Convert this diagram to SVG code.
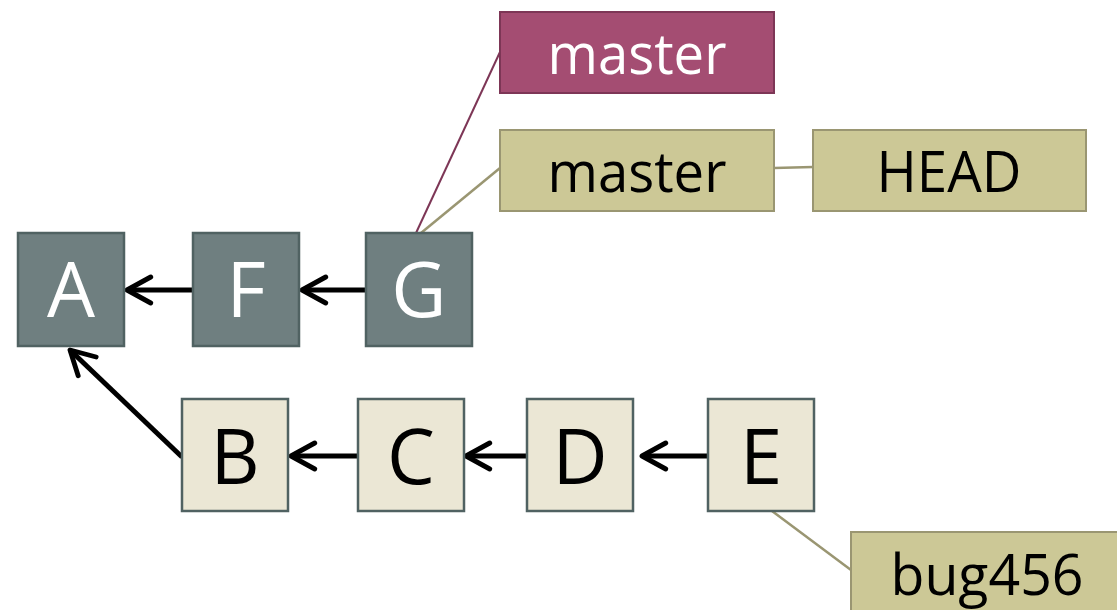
<svg xmlns="http://www.w3.org/2000/svg" width="1117" height="610" viewBox="0 0 1117 610">
<defs>
<marker id="ah" viewBox="0 0 10 10" refX="8.8" refY="5" markerWidth="6.5" markerHeight="6.5" orient="auto" markerUnits="strokeWidth" overflow="visible">
<path d="M1.5,1 L8.8,5 L1.5,9" fill="none" stroke="#000" stroke-width="1.5" stroke-linecap="round" stroke-linejoin="round"/>
</marker>
<style>
.dk{fill:#6f7f80;stroke:#506262;stroke-width:2.5}
.lt{fill:#ebe7d5;stroke:#506262;stroke-width:2.5}
.rd{fill:#a44d72;stroke:#7d3656;stroke-width:2}
.ol{fill:#ccc896;stroke:#9a9672;stroke-width:2}
.big{font-family:"Open Sans","Liberation Sans",sans-serif;font-size:76px;text-anchor:middle}
.lbl{font-family:"Open Sans","Liberation Sans",sans-serif;font-size:56px;text-anchor:middle}
.w{fill:#fff}.k{fill:#000}
.arr{stroke:#000;stroke-width:5;fill:none;marker-end:url(#ah)}
.lr{stroke:#7d3656;stroke-width:2;fill:none}
.lo{stroke:#9a9672;stroke-width:2.5;fill:none}
</style>
</defs>
<g id="connectors">
<line class="arr" x1="193" y1="290" x2="127" y2="290"/>
<line class="arr" x1="366" y1="290" x2="302" y2="290"/>
<line class="arr" x1="182" y1="457" x2="70" y2="350"/>
<line class="arr" x1="358" y1="456" x2="291" y2="456"/>
<line class="arr" x1="527" y1="456" x2="466" y2="456"/>
<line class="arr" x1="708" y1="456" x2="642" y2="456"/>
<line class="lr" x1="416" y1="233" x2="500" y2="52"/>
<line class="lo" x1="421" y1="233" x2="500" y2="168"/>
<line class="lo" x1="774" y1="168" x2="813" y2="167"/>
<line class="lo" x1="772" y1="511" x2="851" y2="570"/>
</g>
<g id="A"><rect class="dk" x="18" y="233" width="106" height="113"/><text class="big w" x="71" y="317">A</text></g>
<g id="F"><rect class="dk" x="193" y="233" width="106" height="113"/><text class="big w" x="246" y="317">F</text></g>
<g id="G"><rect class="dk" x="366" y="233" width="106" height="113"/><text class="big w" x="419" y="317">G</text></g>
<g id="B"><rect class="lt" x="182" y="399" width="106" height="112"/><text class="big k" x="235" y="484">B</text></g>
<g id="C"><rect class="lt" x="358" y="399" width="106" height="112"/><text class="big k" x="411" y="484">C</text></g>
<g id="D"><rect class="lt" x="527" y="399" width="106" height="112"/><text class="big k" x="580" y="484">D</text></g>
<g id="E"><rect class="lt" x="708" y="399" width="106" height="112"/><text class="big k" x="761" y="484">E</text></g>
<g id="master-remote"><rect class="rd" x="500" y="12" width="274" height="81"/><text class="lbl w" x="637" y="74" textLength="179" lengthAdjust="spacingAndGlyphs">master</text></g>
<g id="master"><rect class="ol" x="500" y="130" width="274" height="81"/><text class="lbl k" x="637" y="192" textLength="179" lengthAdjust="spacingAndGlyphs">master</text></g>
<g id="HEAD"><rect class="ol" x="813" y="130" width="273" height="81"/><text class="lbl k" x="949" y="192" textLength="145" lengthAdjust="spacingAndGlyphs">HEAD</text></g>
<g id="bug456"><rect class="ol" x="851" y="532" width="280" height="90"/><text class="lbl k" x="987" y="595" textLength="193" lengthAdjust="spacingAndGlyphs">bug456</text></g>
</svg>
